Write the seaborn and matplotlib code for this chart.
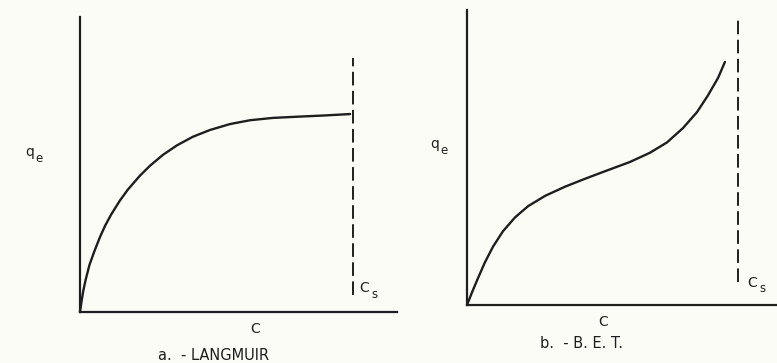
import matplotlib
matplotlib.use("Agg")
import matplotlib.pyplot as plt
import seaborn as sns
import pandas as pd

# Langmuir isotherm: equilibrium concentration C vs. adsorbed amount q_e
langmuir_c = [0.0, 0.004, 0.010, 0.018, 0.030, 0.045, 0.063, 0.079, 0.098,
              0.126, 0.151, 0.189, 0.221, 0.262, 0.306, 0.356, 0.410, 0.473,
              0.536, 0.609, 0.685, 0.767, 0.852]
langmuir_q = [0.0, 0.030, 0.070, 0.110, 0.160, 0.205, 0.254, 0.292, 0.330,
              0.378, 0.415, 0.462, 0.496, 0.533, 0.565, 0.594, 0.617, 0.637,
              0.650, 0.658, 0.662, 0.666, 0.671]
langmuir_cs = 0.861
langmuir_cs_span = [0.058, 0.861]

# B.E.T. isotherm
bet_c = [0.0, 0.017, 0.035, 0.058, 0.084, 0.116, 0.155, 0.197, 0.252, 0.316,
         0.381, 0.439, 0.526, 0.590, 0.645, 0.697, 0.742, 0.777, 0.810, 0.832]
bet_q = [0.0, 0.045, 0.090, 0.145, 0.198, 0.250, 0.297, 0.335, 0.370, 0.401,
         0.428, 0.451, 0.485, 0.516, 0.551, 0.600, 0.654, 0.710, 0.770, 0.824]
bet_cs = 0.874
bet_cs_span = [0.078, 0.966]

panel_titles = ["a.  - LANGMUIR", "b.  - B. E. T."]
x_label = "C"
y_label = "q"
y_sub = "e"
cs_label = "C"
cs_sub = "s"

W, H = 777, 363
INK = "#1e1e1e"
PAPER = "#fcfcf7"

sns.set_theme(style="white")
plt.rcParams["font.family"] = ["DejaVu Sans"]

fig = plt.figure(figsize=(W / 100, H / 100), dpi=100, facecolor=PAPER)


def px(x, y):
    """pixel position (origin top-left) -> figure fraction"""
    return x / W, 1 - y / H


def make_axes(left, top, right, bottom):
    l, b = px(left, bottom)
    r, t = px(right, top)
    ax = fig.add_axes([l, b, r - l, t - b])
    ax.set_facecolor("none")
    ax.set_xlim(0, 1)
    ax.set_ylim(0, 1)
    ax.set_xticks([])
    ax.set_yticks([])
    sns.despine(ax=ax, top=True, right=True)
    for s in ("left", "bottom"):
        ax.spines[s].set_color(INK)
        ax.spines[s].set_linewidth(1.6)
    return ax


ax_a = make_axes(80, 17, 397, 312)
ax_b = make_axes(467, 10, 777, 305)

panels = [
    (ax_a, langmuir_c, langmuir_q, langmuir_cs, langmuir_cs_span),
    (ax_b, bet_c, bet_q, bet_cs, bet_cs_span),
]

for ax, cvals, qvals, cs, span in panels:
    df = pd.DataFrame({"C": cvals, "q": qvals})
    sns.lineplot(data=df, x="C", y="q", ax=ax, sort=False, estimator=None,
                 color=INK, linewidth=1.7)
    for ln in ax.lines:
        ln.set_solid_capstyle("round")
        ln.set_solid_joinstyle("round")
        ln.set_clip_on(False)
    ax.vlines(cs, span[0], span[1], colors=INK, linewidth=1.4,
              linestyles=(0, (7.0, 2.8)))
    ax.set_xlabel("")
    ax.set_ylabel("")

txt = dict(color=INK, fontsize=10)
sub = dict(color=INK, fontsize=8.5)
ttl = dict(color=INK, fontsize=10.5)

# left panel labels
fig.text(*px(30, 152), y_label, ha="center", va="center", **txt)
fig.text(*px(39, 159), y_sub, ha="center", va="center", **sub)
fig.text(*px(255, 329), x_label, ha="center", va="center", **txt)
fig.text(*px(214, 356), panel_titles[0], ha="center", va="center", **ttl)
fig.text(*px(364, 288), cs_label, ha="center", va="center", **txt)
fig.text(*px(374, 294), cs_sub, ha="center", va="center", **sub)

# right panel labels
fig.text(*px(435, 144), y_label, ha="center", va="center", **txt)
fig.text(*px(444, 151), y_sub, ha="center", va="center", **sub)
fig.text(*px(603, 322), x_label, ha="center", va="center", **txt)
fig.text(*px(581, 343), panel_titles[1], ha="center", va="center", **ttl)
fig.text(*px(752, 283), cs_label, ha="center", va="center", **txt)
fig.text(*px(762, 289), cs_sub, ha="center", va="center", **sub)

fig.savefig("out.png", dpi=100, facecolor=PAPER)
